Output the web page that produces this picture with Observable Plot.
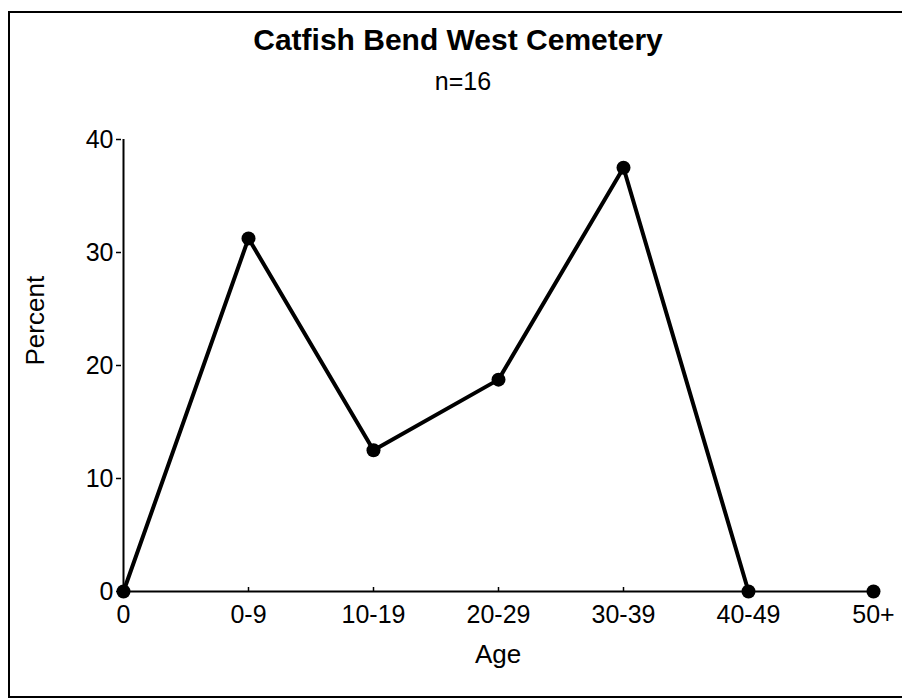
<!DOCTYPE html>
<html>
<head>
<meta charset="utf-8">
<script src="https://cdn.jsdelivr.net/npm/d3@7"></script>
<script src="https://cdn.jsdelivr.net/npm/@observablehq/plot@0.6"></script>
<style>
  html, body { margin: 0; padding: 0; background: #fff; }
  #page { position: relative; width: 902px; height: 698px; overflow: hidden; font-family: Arial, "Liberation Sans", sans-serif; color: #000; }
  #border { position: absolute; left: 8px; top: 11px; width: 897px; height: 683px; border: 2px solid #000; pointer-events: none; }
  #title { position: absolute; left: 0; width: 916px; top: 24px; text-align: center; font-size: 30px; font-weight: bold; line-height: 32px; }
  #subtitle { position: absolute; left: 0; width: 926px; top: 67px; text-align: center; font-size: 25px; line-height: 28px; }
  #chart { position: absolute; left: 0; top: 100px; }
</style>
</head>
<body>
<div id="page">
  <div id="title"></div>
  <div id="subtitle"></div>
  <div id="chart"></div>
  <div id="border"></div>
</div>
<script>
const titleText = "Catfish Bend West Cemetery";
const subtitleText = "n=16";
const ageGroups = ["0", "0-9", "10-19", "20-29", "30-39", "40-49", "50+"];
const percents = [0, 31.25, 12.5, 18.75, 37.5, 0, 0];
const yTicks = [0, 10, 20, 30, 40];
const xLabel = "Age";
const yLabel = "Percent";

document.getElementById("title").textContent = titleText;
document.getElementById("subtitle").textContent = subtitleText;

const data = ageGroups.map((age, i) => ({age, percent: percents[i]}));
const lineData = data.slice(0, 6);

const chart = Plot.plot({
  width: 902,
  height: 598,
  marginLeft: 121,
  marginRight: 28,
  marginTop: 39,
  marginBottom: 107,
  style: {fontFamily: "Arial, 'Liberation Sans', sans-serif", fontSize: "25px", color: "#000", background: "transparent"},
  x: {type: "point", domain: ageGroups, padding: 0},
  y: {domain: [0, 40], ticks: yTicks},
  marks: [
    Plot.axisY({ticks: yTicks, tickSize: 5, tickPadding: 3, fontSize: 25, label: null, stroke: "#000", strokeWidth: 1.5}),
    Plot.axisX({tickSize: 0, tickPadding: 14, fontSize: 25, label: null}),
    Plot.axisX({tickSize: -4, tickFormat: () => "", label: null, strokeWidth: 1.5}),
    Plot.ruleX([ageGroups[0]], {stroke: "#000", strokeWidth: 2}),
    Plot.ruleY([0], {stroke: "#000", strokeWidth: 2}),
    Plot.line(lineData, {x: "age", y: "percent", stroke: "#000", strokeWidth: 4}),
    Plot.dot(data, {x: "age", y: "percent", r: 7, fill: "#000", stroke: "none"}),
    Plot.text([yLabel], {frameAnchor: "left", dx: -86, rotate: -90, fontSize: 26, fill: "#000"}),
    Plot.text([xLabel], {frameAnchor: "bottom", dy: 71, fontSize: 26, fill: "#000"})
  ]
});
document.getElementById("chart").appendChild(chart);
</script>
</body>
</html>
